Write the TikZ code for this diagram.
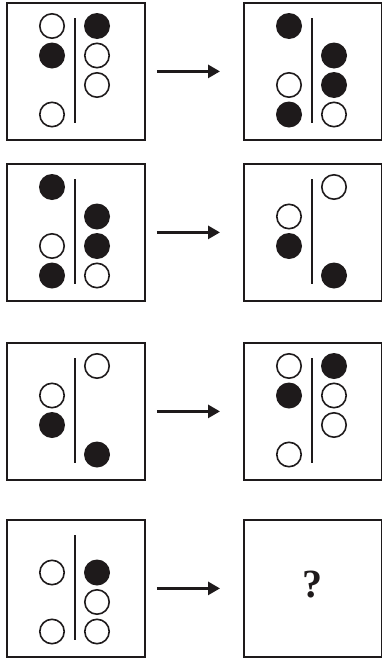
\documentclass[tikz,border=0pt]{standalone}
\usepackage{fontspec}
\newfontfamily\qfont{Liberation Serif}
\usetikzlibrary{arrows.meta}
\definecolor{ink}{RGB}{30,26,27}
\newcommand\mypanel[5]{%
  \node[panel] (#1) at (#2,#3) {};
  \begin{scope}[shift={(#2,#3)}]
    \coordinate (#1-dt) at (69,16);
    \coordinate (#1-db) at (69,121);
    \foreach \r/\t in {#4} \node[\t] (#1-l\r) at (46,{24+29.5*(\r-1)}) {};
    \foreach \r/\t in {#5} \node[\t] (#1-r\r) at (91,{24+29.5*(\r-1)}) {};
  \end{scope}
  \draw[divider] (#1-dt) -- (#1-db);
}
\begin{document}
\begin{tikzpicture}[x=1pt,y=-1pt,
  panel/.style={draw=ink, line width=1.8pt, minimum width=138pt, minimum height=137pt, inner sep=0pt, anchor=north west},
  ocirc/.style={circle, draw=ink, line width=1.6pt, minimum size=24.4pt, inner sep=0pt},
  fcirc/.style={circle, fill=ink, minimum size=26pt, inner sep=0pt},
  divider/.style={draw=ink, line width=1.5pt},
  arr/.style={draw=ink, line width=2.8pt, -{Triangle[length=12pt,width=13pt]}, shorten <=11pt, shorten >=23pt}]
\useasboundingbox (0,0) rectangle (382,659);
\fill[white] (0,0) rectangle (382,659);
% row 1
\mypanel{L1}{6}{2}{1/ocirc,2/fcirc,4/ocirc}{1/fcirc,2/ocirc,3/ocirc}
\mypanel{R1}{243}{2}{1/fcirc,3/ocirc,4/fcirc}{2/fcirc,3/fcirc,4/ocirc}
% row 2
\mypanel{L2}{6}{163}{1/fcirc,3/ocirc,4/fcirc}{2/fcirc,3/fcirc,4/ocirc}
\mypanel{R2}{243}{163}{2/ocirc,3/fcirc}{1/ocirc,4/fcirc}
% row 3
\mypanel{L3}{6}{342}{2/ocirc,3/fcirc}{1/ocirc,4/fcirc}
\mypanel{R3}{243}{342}{1/ocirc,2/fcirc,4/ocirc}{1/fcirc,2/ocirc,3/ocirc}
% row 4
\mypanel{L4}{6}{519}{2/ocirc,4/ocirc}{2/fcirc,3/ocirc,4/ocirc}
\node[panel] (R4) at (243,519) {};
\node[font=\qfont\bfseries\fontsize{40}{40}\selectfont, text=ink, inner sep=0pt] (q) at ([yshift=4pt]R4.center) {?};
% arrows
\draw[arr] (L1) -- (R1);
\draw[arr] (L2) -- (R2);
\draw[arr] (L3) -- (R3);
\draw[arr] (L4) -- (R4);
\end{tikzpicture}
\end{document}
